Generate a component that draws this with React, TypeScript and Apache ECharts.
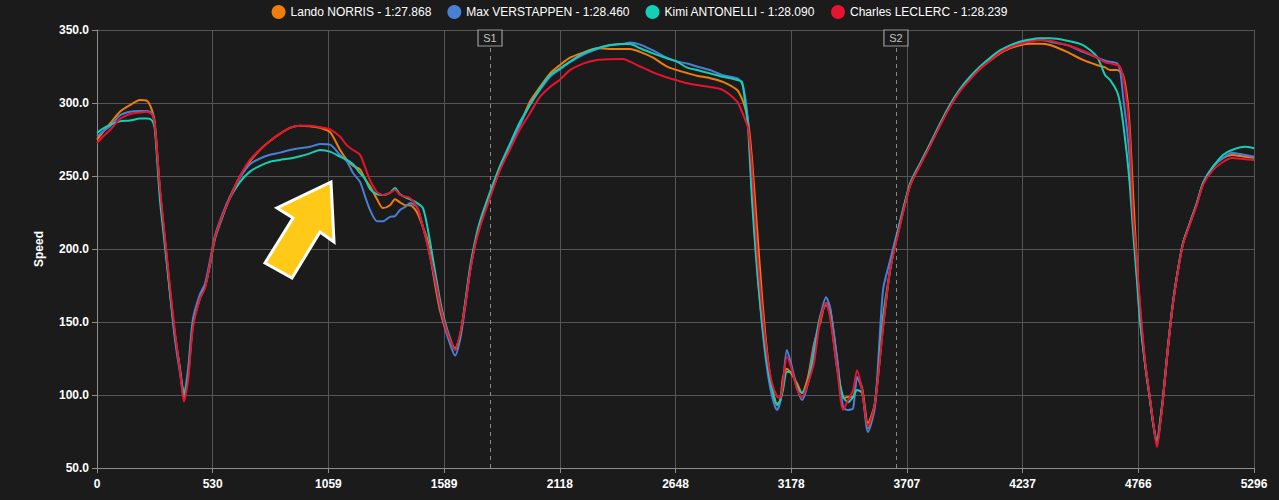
import React, { useEffect, useRef } from "react";
import * as echarts from "echarts";

const DRIVERS = [
  "Lando NORRIS - 1:27.868",
  "Max VERSTAPPEN - 1:28.460",
  "Kimi ANTONELLI - 1:28.090",
  "Charles LECLERC - 1:28.239",
];
const COLORS = ["#f07c0a", "#4a7fd6", "#14cfb4", "#e8132e"];

const DIST = [
  0, 27, 60, 105, 151, 197, 229, 252, 265, 288, 311, 334, 357, 380, 398, 417, 439, 471, 494, 517, 540, 572, 609,
  655, 700, 746, 792, 838, 883, 929, 975, 1021, 1067, 1112, 1144, 1172, 1204, 1227, 1250, 1282, 1309, 1341, 1364,
  1387, 1410, 1433, 1465, 1492, 1515, 1547, 1570, 1593, 1616, 1639, 1662, 1685, 1707, 1730, 1753, 1799, 1845,
  1890, 1936, 1982, 2028, 2074, 2119, 2165, 2225, 2289, 2348, 2408, 2440, 2486, 2545, 2609, 2655, 2701, 2746,
  2806, 2865, 2930, 2952, 2966, 2980, 2998, 3021, 3044, 3067, 3090, 3113, 3127, 3140, 3158, 3181, 3204, 3227,
  3254, 3282, 3310, 3337, 3355, 3387, 3415, 3438, 3461, 3479, 3502, 3529, 3561, 3598, 3630, 3657, 3721, 3767,
  3813, 3859, 3905, 3950, 3996, 4042, 4088, 4133, 4179, 4225, 4271, 4316, 4362, 4440, 4513, 4577, 4614, 4637,
  4669, 4683, 4697, 4715, 4728, 4742, 4760, 4774, 4797, 4820, 4834, 4852, 4866, 4880, 4902, 4925, 4948, 4971,
  5003, 5035, 5063, 5108, 5154, 5195, 5255, 5296,
];

const NOR = [
  275, 280, 286, 294, 298.5, 302, 301.5, 295, 286, 240, 206, 172, 140, 117, 98, 115, 149, 167, 174, 190, 208, 222, 235.6,
  250, 260, 268, 274, 279, 283, 284.5, 284, 283, 280, 268, 261, 257, 254.5, 248, 243, 234, 228, 230, 234,
  232, 230, 230, 225, 215, 205, 176, 158, 146, 137, 132, 141, 162, 185, 203, 216, 236, 255,
  270, 285, 301, 311, 320.3, 326, 331, 334.5, 337.5, 337, 337, 337, 335, 331, 324.9, 322.5, 320.5, 318.7,
  317, 314.5, 308.9, 303, 297, 288, 262, 215, 168, 130, 105, 94, 96, 112, 118, 114, 108, 101.4,
  112, 135, 149.3, 163, 160, 125, 98, 98.6, 98.6, 112, 105, 80.8, 94.5, 146.6, 185.6, 205, 243, 257.5,
  271, 285, 298, 308.5, 316.5, 323.5, 329, 334, 337.5, 339.5, 340.5, 340.5, 339.7, 335, 329.5, 326, 324.4, 322.6,
  322.6, 321.5, 319.2, 304.3, 281.5, 240, 190, 160, 122, 97, 81, 66, 80, 98, 132, 163, 185.6, 204,
  218, 231.5, 245, 256.2, 262.3, 264.4, 263.2, 262.5,
];

const VER = [
  277, 280.5, 284, 291.5, 294, 294.5, 294.5, 293, 284, 240, 206, 170, 138, 115, 102, 118, 152, 169, 176, 192, 209, 223, 236,
  249, 258, 262, 264.5, 266, 267.8, 269, 270, 272, 271.5, 264.4, 260, 252, 246, 236, 226.7, 219, 219, 222, 222.5,
  226.7, 228.8, 231.5, 228.8, 215, 201.4, 178, 160, 146, 135, 127, 138, 160, 184, 203, 217, 237, 256,
  270, 285, 299, 309, 318, 323, 328, 333, 337, 339.5, 340.5, 341.5, 340, 336, 331, 328.5, 327, 325,
  322.6, 319, 317, 313.5, 305, 287, 240, 190, 148, 118, 99, 89.7, 95, 108, 130.8, 119.2, 105, 96.6,
  108, 133, 153.4, 167, 160.3, 126, 91.8, 89.7, 91, 112.3, 103.4, 74.7, 91.8, 172, 192, 208, 244, 258,
  271.5, 285, 298.5, 309, 317, 324, 330, 335.5, 339, 341.5, 343, 343.5, 342, 339.7, 335, 331.2, 329, 328.3,
  327.2, 322.6, 304.3, 281.5, 258.7, 218, 182, 153, 122, 97, 81, 67, 80.8, 98.6, 133, 163, 185.6, 204,
  218, 231.5, 245.2, 256.5, 262.3, 266, 264.4, 263.2,
];

const ANT = [
  279.5, 282.5, 285, 287.5, 288, 289.3, 289.3, 288, 282, 234, 202, 170, 141, 118, 100, 113, 148, 166, 174, 189, 207, 221, 235,
  246, 253, 257, 259.8, 261, 262, 263.5, 265.5, 267.8, 266.7, 263.2, 261, 258, 252, 248, 241, 237.5, 237, 238.5, 241.8,
  237.5, 235.5, 234, 231.5, 228, 213, 185, 165, 150, 139, 131, 140, 163, 187, 205, 219, 239, 257,
  272, 287, 298.6, 310, 319, 323.7, 328.3, 334, 337.5, 339.7, 340.4, 340.4, 337.5, 334, 330.6, 328.3, 324.2, 322.6,
  320.3, 318, 315.8, 314.6, 301, 284, 234, 186, 150, 122, 104, 93, 96, 103.4, 116, 115.5, 106, 101.4,
  108, 128, 153.4, 161.6, 156, 119, 99, 95, 98.6, 103.4, 101.4, 77.4, 94.5, 153.4, 185, 206, 244.5, 258.5,
  272, 286, 299, 309.5, 318, 325, 331, 336, 339.5, 342, 343.5, 344.3, 344.3, 342.7, 339.7, 331.7, 319.2, 315.8,
  307.8, 299.8, 286.1, 263.2, 242.7, 213, 178.8, 151.4, 121.9, 96.6, 80.8, 67, 82, 99, 132.9, 163, 185.6, 204,
  217.8, 231.5, 245.2, 256.2, 264.4, 267.8, 270, 269,
];

const LEC = [
  272.5, 277, 281.5, 289, 292.5, 293.5, 294, 292, 284.5, 242, 208, 174, 143, 116, 95.5, 110, 146, 166, 173, 190, 208, 222, 235,
  250, 261, 268, 274, 279, 283, 284.5, 284.5, 283.5, 282, 277, 271, 267.8, 264.5, 256, 247, 239, 237, 238.5, 240.4,
  237, 236, 235, 228.8, 215, 201.4, 180, 162, 148, 138, 131, 142, 161, 184, 202, 215, 235, 254,
  268, 282, 293, 304.3, 311, 316, 322.5, 327, 329.5, 330, 330.1, 328.3, 325, 321, 317.5, 315.5, 313.5, 312.3,
  311, 308.9, 301, 294, 289, 283, 255, 200, 160, 128, 108, 99, 98, 108, 126, 117, 104, 98.6,
  108, 122, 151.4, 163, 153.4, 119.2, 89.7, 96.6, 103.4, 117, 103.4, 78, 94.5, 146.6, 185.6, 204, 243, 257,
  270.5, 284.5, 297.5, 308, 316, 323.5, 329, 334.5, 338, 340.5, 342, 343, 342.7, 339.7, 335.8, 331.2, 327.9, 327.2,
  326, 324.9, 318, 299.8, 274.7, 224.4, 190.4, 163, 124, 98, 82, 64.4, 79, 98, 132, 162, 185, 203,
  217, 230.5, 244, 254, 259.6, 262.3, 261.4, 261,
];

const SPEEDS = [NOR, VER, ANT, LEC];
const SECTORS = [
  { name: "S1", dist: 1799 },
  { name: "S2", dist: 3657 },
];
const X_MAX = 5296;
const Y_TICKS = [50, 100, 150, 200, 250, 300, 350];

const BG = "#1b1b1b";
const FONT = "Liberation Sans, Arial, sans-serif";

export default function App() {
  const ref = useRef<HTMLDivElement>(null);
  useEffect(() => {
    if (!ref.current) return;
    const chart = echarts.init(ref.current, null, { renderer: "svg" });
    const series: any[] = DRIVERS.map((name, k) => ({
      name,
      type: "line",
      data: DIST.map((d, i) => [d, SPEEDS[k][i]]),
      showSymbol: false,
      smooth: 0.25,
      lineStyle: { width: 2, color: COLORS[k] },
      itemStyle: { color: COLORS[k] },
      z: 3 + k,
    }));
    series.push({
      name: "sectors",
      type: "line",
      data: [],
      silent: true,
      markLine: {
        symbol: ["none", "none"],
        silent: true,
        label: { show: false },
        lineStyle: { color: "#8a8a8a", type: [4, 4], width: 1 },
        data: SECTORS.map((s) => [
          { coord: [s.dist, Y_TICKS[0]] },
          { coord: [s.dist, Y_TICKS[Y_TICKS.length - 1]] },
        ]),
      },
      markPoint: {
        silent: true,
        symbol: "rect",
        symbolSize: [24, 16],
        symbolOffset: [0, 8],
        itemStyle: { color: BG, borderColor: "#9a9a9a", borderWidth: 1 },
        label: {
          show: true,
          color: "#c4c4c4",
          fontSize: 11,
          fontFamily: FONT,
          formatter: (p: any) => p.name,
        },
        data: SECTORS.map((s) => ({ name: s.name, coord: [s.dist, Y_TICKS[Y_TICKS.length - 1]] })),
      },
      z: 2,
    });
    chart.setOption({
      animation: false,
      backgroundColor: BG,
      textStyle: { fontFamily: FONT },
      legend: {
        data: DRIVERS,
        top: 0,
        left: "center",
        icon: "circle",
        itemWidth: 14,
        itemHeight: 14,
        itemGap: 16,
        textStyle: { color: "#ffffff", fontSize: 12, fontFamily: FONT },
      },
      grid: { left: 97, right: 25, top: 30, bottom: 32 },
      xAxis: {
        type: "value",
        min: 0,
        max: X_MAX,
        interval: X_MAX / 10,
        axisLine: { show: true, lineStyle: { color: "#8c8c8c" } },
        axisTick: { show: true, length: 5, lineStyle: { color: "#8c8c8c" } },
        axisLabel: {
          color: "#ffffff",
          fontWeight: "bold",
          fontSize: 12,
          margin: 10,
          formatter: (v: number) => String(Math.round(v)),
        },
        splitLine: { show: true, lineStyle: { color: "#555555", width: 1 } },
      },
      yAxis: {
        type: "value",
        min: Y_TICKS[0],
        max: Y_TICKS[Y_TICKS.length - 1],
        interval: 50,
        name: "Speed",
        nameLocation: "middle",
        nameGap: 52,
        nameTextStyle: { color: "#ffffff", fontWeight: "bold", fontSize: 12 },
        axisLine: { show: true, lineStyle: { color: "#8c8c8c" } },
        axisTick: { show: true, length: 5, lineStyle: { color: "#8c8c8c" } },
        axisLabel: {
          color: "#ffffff",
          fontWeight: "bold",
          fontSize: 12,
          margin: 8,
          formatter: (v: number) => v.toFixed(1),
        },
        splitLine: { show: true, lineStyle: { color: "#555555", width: 1 } },
      },
      graphic: [
        {
          type: "polygon",
          z: 100,
          shape: {
            points: [
              [331, 182],
              [334, 242],
              [320, 232],
              [292, 278],
              [265, 263],
              [293, 218],
              [277, 208],
            ],
          },
          style: { fill: "#ffc917", stroke: "#ffffff", lineWidth: 3, lineJoin: "miter" },
        },
      ],
      series,
    });
    return () => chart.dispose();
  }, []);
  return (
    <div
      ref={ref}
      style={{ position: "fixed", left: 0, top: 0, width: 1279, height: 500, background: BG }}
    />
  );
}
